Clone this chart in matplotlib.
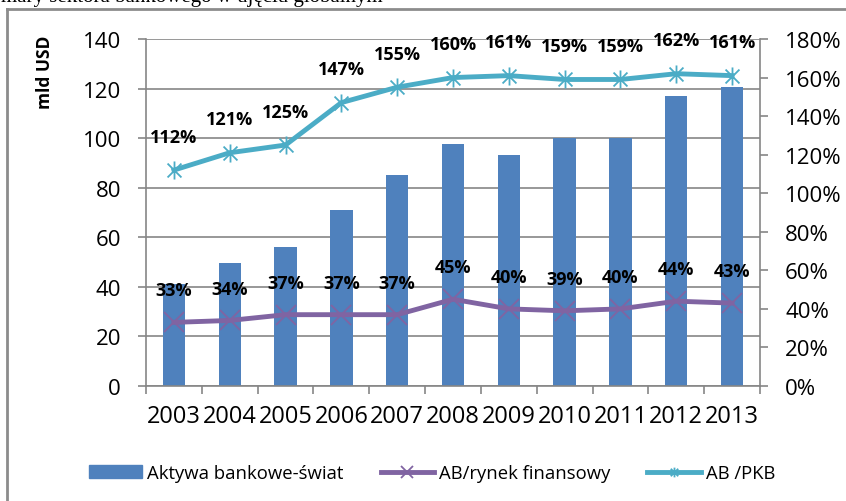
import matplotlib
matplotlib.use('Agg')
import matplotlib.pyplot as plt
from matplotlib.path import Path
from matplotlib.lines import Line2D
from matplotlib.patches import Patch
import numpy as np

years = ['2003', '2004', '2005', '2006', '2007', '2008', '2009', '2010', '2011', '2012', '2013']
assets = [41, 49.5, 56, 71, 85, 97.5, 93, 100, 100, 117, 120.5]
ab_market = [33, 34, 37, 37, 37, 45, 40, 39, 40, 44, 43]
ab_gdp = [112, 121, 125, 147, 155, 160, 161, 159, 159, 162, 161]

plt.rcParams['font.family'] = ['Open Sans', 'DejaVu Sans']

BLUE = '#4F81BD'
PURPLE = '#8064A2'
CYAN = '#4BACC6'
GRAY = '#868686'

W, H = 846, 502
fig = plt.figure(figsize=(W / 100, H / 100), dpi=100)
L, R, T, B = 146, 760, 40, 387
ax = fig.add_axes([L / W, 1 - B / H, (R - L) / W, (B - T) / H])

x = np.arange(len(years))
ax.bar(x, assets, width=0.4, color=BLUE, zorder=2)
ax.set_xlim(-0.5, len(years) - 0.5)
ax.set_ylim(0, 140)
ax.set_yticks(range(0, 141, 20))
ax.yaxis.grid(True, color=GRAY, lw=1.2)
ax.set_axisbelow(True)
for s in ['top', 'right']:
    ax.spines[s].set_visible(False)
for s in ['left', 'bottom']:
    ax.spines[s].set_color(GRAY)
    ax.spines[s].set_linewidth(1.2)
ax.set_xticks(x)
ax.set_xticklabels(years)
ax.set_xticks(np.arange(-0.5, len(years)), minor=True)
ax.tick_params(axis='x', which='major', length=0, pad=13, labelsize=17)
ax.tick_params(axis='x', which='minor', length=6, color=GRAY, width=1.2)
ax.tick_params(axis='y', length=6, color=GRAY, width=1.2, pad=12, labelsize=16)

fig.text(45 / W, 1 - 72 / H, 'mld USD', rotation=90, ha='center', va='center',
         fontweight='bold', fontsize=12.5)

ax2 = ax.twinx()
ax2.set_ylim(0, 180)
ax2.set_yticks(range(0, 181, 20))
ax2.set_yticklabels([f'{v}%' for v in range(0, 181, 20)])
for s in ['top', 'left', 'bottom']:
    ax2.spines[s].set_visible(False)
ax2.spines['right'].set_color(GRAY)
ax2.spines['right'].set_linewidth(1.2)
ax2.tick_params(axis='y', length=6, color=GRAY, width=1.2, pad=12, labelsize=16)

star = Path([(-1, -1), (1, 1), (-1, 1), (1, -1), (0, -1.3), (0, 1.3)],
            [Path.MOVETO, Path.LINETO, Path.MOVETO, Path.LINETO, Path.MOVETO, Path.LINETO])

ax2.plot(x, ab_market, color=PURPLE, lw=3.5, marker='x', ms=14, mew=1.3, zorder=3)
ax2.plot(x, ab_gdp, color=CYAN, lw=3.5, marker=star, ms=13, mew=1.3, zorder=3)

for i, v in enumerate(ab_market):
    ax2.annotate(f'{v}%', (i, v), xytext=(0, 23), textcoords='offset points',
                 ha='center', va='center', fontweight='bold', fontsize=13, zorder=5)
for i, v in enumerate(ab_gdp):
    ax2.annotate(f'{v}%', (i, v), xytext=(0, 24), textcoords='offset points',
                 ha='center', va='center', fontweight='bold', fontsize=13, zorder=5)

handles = [
    Patch(color=BLUE),
    Line2D([], [], color=PURPLE, lw=3.5, marker='x', ms=8, mew=1.3),
    Line2D([], [], color=CYAN, lw=3.5, marker=star, ms=7, mew=1.3),
]
labels = ['Aktywa bankowe-świat', 'AB/rynek finansowy', 'AB /PKB']
fig.legend(handles, labels, loc='center', bbox_to_anchor=(432 / W, 1 - 474 / H), ncol=3,
           frameon=False, fontsize=13.3, handlelength=2.9, handleheight=0.7,
           columnspacing=2.0, handletextpad=0.27, borderaxespad=0, borderpad=0)

# outer frame (partially cropped)
fig.add_artist(Line2D([7 / W, 7 / W], [0, 1 - 10 / H], transform=fig.transFigure,
                      color='#8c8c8c', lw=2))
fig.add_artist(Line2D([7 / W, 1], [1 - 10 / H, 1 - 10 / H], transform=fig.transFigure,
                      color='#8c8c8c', lw=2))

fig.text(1 / W, 1 - 2 / H, 'mary sektora bankowego w ujęciu globalnym',
         family=['Liberation Serif', 'DejaVu Serif'], fontsize=15, va='baseline', ha='left')

fig.savefig('out.png', dpi=100)
